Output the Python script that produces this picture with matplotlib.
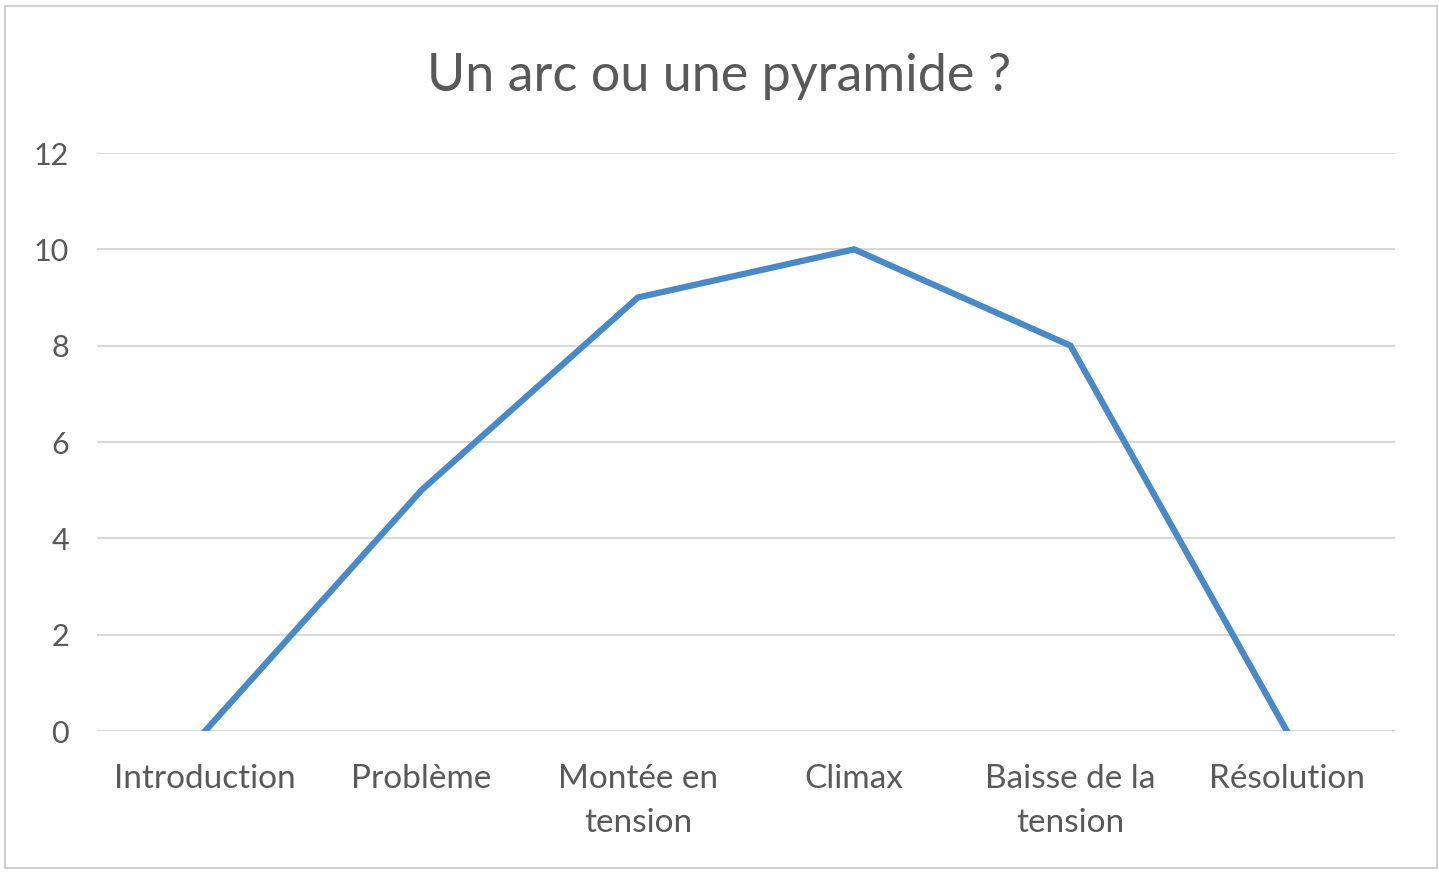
import matplotlib
matplotlib.use("Agg")
import matplotlib.pyplot as plt
from matplotlib.patches import Rectangle

categories = ["Introduction", "Problème", "Montée en\ntension", "Climax", "Baisse de la\ntension", "Résolution"]
values = [0, 5, 9, 10, 8, 0]
yticks = [0, 2, 4, 6, 8, 10, 12]
title = "Un arc ou une pyramide ?"

plt.rcParams['font.family'] = ['Lato', 'DejaVu Sans']
text_color = "#595959"

fig = plt.figure(figsize=(14.39, 8.72), dpi=100)
fig.patches.append(Rectangle((5/1439, 4/872), 1432/1439, 862/872, transform=fig.transFigure,
                             fill=False, edgecolor="#d0d0d0", linewidth=1.5))
ax = fig.add_axes([97/1439, 1-731/872, (1395-97)/1439, (731-153)/872])
x = list(range(len(categories)))
ax.plot(x, values, color="#4a89c8", linewidth=4.5, solid_joinstyle="miter", zorder=3)
ax.set_xlim(-0.5, len(categories)-0.5)
ax.set_ylim(0, 12)
ax.set_yticks(yticks)
ax.set_yticklabels([str(v) for v in yticks])
ax.set_xticks(x)
ax.set_xticklabels(categories, linespacing=1.55)
for s in ax.spines.values():
    s.set_visible(False)
ax.grid(axis="y", color="#d9d9d9", linewidth=1.5, zorder=0)
ax.tick_params(axis="both", length=0, colors=text_color)
ax.tick_params(axis="y", pad=20, labelsize=22)
ax.tick_params(axis="x", pad=24, labelsize=24)
fig.text(0.5, 1-77/872, title, ha="center", va="center", fontsize=37.5, color=text_color)
fig.savefig("out.png", dpi=100)
